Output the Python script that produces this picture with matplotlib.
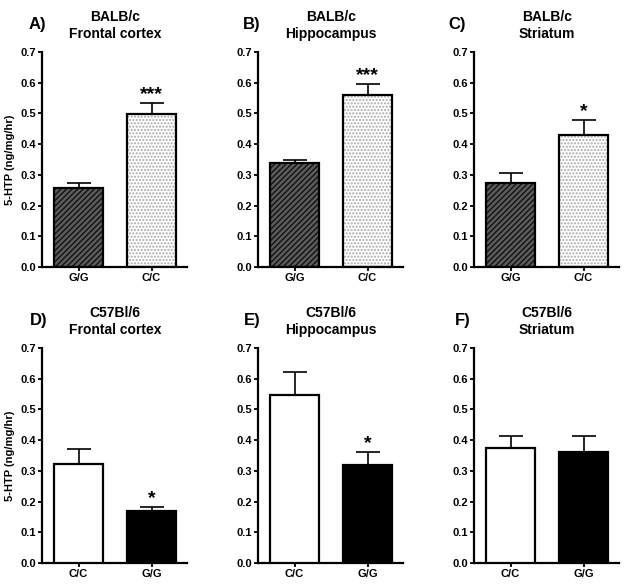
import matplotlib
matplotlib.use('Agg')
from matplotlib import pyplot as plt

plt.rcParams['font.family'] = ['Liberation Sans', 'DejaVu Sans']
plt.rcParams['font.weight'] = 'bold'
plt.rcParams['hatch.linewidth'] = 1.0

# data
letters = ['A)', 'B)', 'C)', 'D)', 'E)', 'F)']
strains = ['BALB/c', 'BALB/c', 'BALB/c', 'C57Bl/6', 'C57Bl/6', 'C57Bl/6']
regions = ['Frontal cortex', 'Hippocampus', 'Striatum',
           'Frontal cortex', 'Hippocampus', 'Striatum']
genotypes_top = ['G/G', 'C/C']
genotypes_bottom = ['C/C', 'G/G']
means = [[0.257, 0.498], [0.337, 0.560], [0.275, 0.430],
         [0.323, 0.170], [0.548, 0.320], [0.375, 0.363]]
sems = [[0.015, 0.035], [0.010, 0.037], [0.032, 0.048],
        [0.047, 0.012], [0.075, 0.040], [0.037, 0.050]]
stars = [[None, '***'], [None, '***'], [None, '*'],
         [None, '*'], [None, '*'], [None, None]]
yticks = [0.0, 0.1, 0.2, 0.3, 0.4, 0.5, 0.6, 0.7]
ylabel = '5-HTP (ng/mg/hr)'

W, H = 625, 585
fig = plt.figure(figsize=(W / 100, H / 100), dpi=100)

# panel placement in pixels
lefts = [42, 258, 474, 42, 258, 474]
tops = [52, 52, 52, 348, 348, 348]
letter_x = [29, 243, 448, 30, 244, 455]
letter_y = [24, 24, 24, 320, 320, 320]
ax_w = 1.98 * 73
ax_h = 215

for i in range(6):
    ax = fig.add_axes([lefts[i] / W, 1 - (tops[i] + ax_h) / H, ax_w / W, ax_h / H])
    x = [0, 1]
    if i < 3:
        labels = genotypes_top
        # hatched G/G, dotted C/C
        ax.bar(0, means[i][0], width=0.67, color='#5c5c5c', edgecolor='#111111',
               hatch='//////', linewidth=0, zorder=2)
        ax.bar(1, means[i][1], width=0.67, color='white', edgecolor='#a8a8a8',
               hatch='.....', linewidth=0, zorder=2)
        ax.bar(x, means[i], width=0.67, fill=False, edgecolor='black',
               linewidth=1.6, zorder=3)
    else:
        labels = genotypes_bottom
        ax.bar(x, means[i], width=0.67, color=['white', 'black'],
               edgecolor='black', linewidth=1.6, zorder=3)
    for j in range(2):
        ax.errorbar(x[j], means[i][j], yerr=[[0], [sems[i][j]]], fmt='none',
                    ecolor='black', elinewidth=1.2, capsize=8.5, capthick=1.2,
                    zorder=1)
        if stars[i][j]:
            ax.text(x[j], means[i][j] + sems[i][j] + 0.013, stars[i][j],
                    ha='center', va='baseline', fontsize=14, fontweight='bold')

    ax.set_xlim(-0.5, 1.48)
    ax.set_ylim(0, 0.7)
    ax.set_yticks(yticks)
    ax.set_yticklabels(['%.1f' % v for v in yticks])
    ax.set_xticks(x)
    ax.set_xticklabels(labels)
    for s in ['top', 'right']:
        ax.spines[s].set_visible(False)
    for s in ['left', 'bottom']:
        ax.spines[s].set_linewidth(1.6)
    ax.tick_params(axis='both', direction='out', length=3, width=1.3,
                   labelsize=8, pad=1.5)
    for lab in ax.get_xticklabels() + ax.get_yticklabels():
        lab.set_fontweight('bold')
    if i in (0, 3):
        ax.set_ylabel(ylabel, fontsize=8, fontweight='bold', labelpad=4)

    ax.set_title(strains[i] + '\n' + regions[i], fontsize=10, fontweight='bold',
                 x=(0.5 + 0.5) / 1.98, pad=10, linespacing=1.3)
    fig.text(letter_x[i] / W, 1 - letter_y[i] / H, letters[i], ha='left',
             va='center', fontsize=12, fontweight='bold')

fig.savefig('out.png', dpi=100)
